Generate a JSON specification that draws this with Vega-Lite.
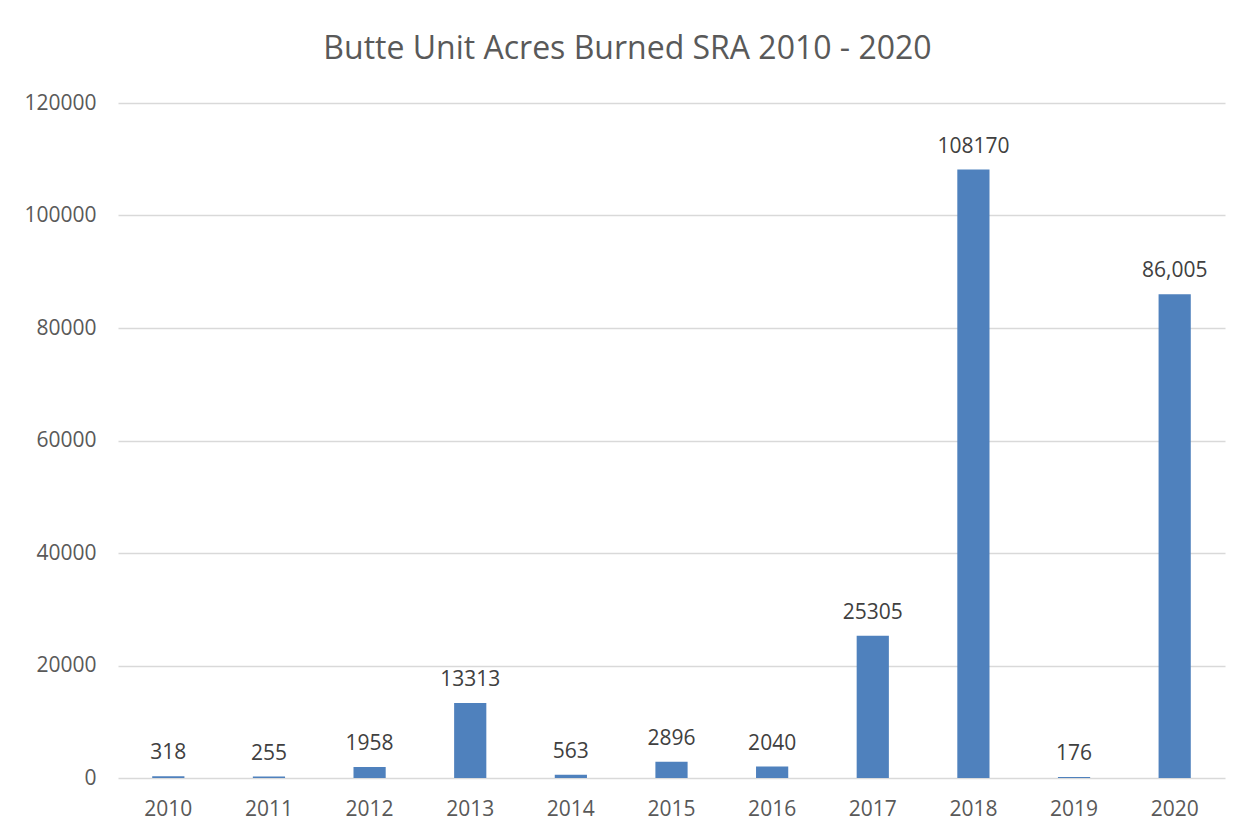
{
  "$schema": "https://vega.github.io/schema/vega-lite/v6.json",
  "autosize": {"type": "none"},
  "width": 1107,
  "height": 675,
  "padding": {"left": 118, "top": 103, "right": 27, "bottom": 59},
  "background": "white",
  "title": {
    "text": "Butte Unit Acres Burned SRA 2010 - 2020",
    "font": "Open Sans",
    "fontSize": 32,
    "fontWeight": "normal",
    "color": "#595959",
    "anchor": "middle",
    "dx": -44,
    "offset": 26
  },
  "data": {
    "values": [
      {"year": "2010", "acres": 318, "label": "318"},
      {"year": "2011", "acres": 255, "label": "255"},
      {"year": "2012", "acres": 1958, "label": "1958"},
      {"year": "2013", "acres": 13313, "label": "13313"},
      {"year": "2014", "acres": 563, "label": "563"},
      {"year": "2015", "acres": 2896, "label": "2896"},
      {"year": "2016", "acres": 2040, "label": "2040"},
      {"year": "2017", "acres": 25305, "label": "25305"},
      {"year": "2018", "acres": 108170, "label": "108170"},
      {"year": "2019", "acres": 176, "label": "176"},
      {"year": "2020", "acres": 86005, "label": "86,005"}
    ]
  },
  "encoding": {
    "x": {
      "field": "year",
      "type": "ordinal",
      "scale": {"paddingInner": 0.68, "paddingOuter": 0.34},
      "axis": {
        "title": null,
        "labelAngle": 0,
        "domain": false,
        "ticks": false,
        "tickSize": 0,
        "labelPadding": 20,
        "labelFont": "Open Sans",
        "labelFontSize": 21,
        "labelColor": "#595959"
      }
    },
    "y": {
      "field": "acres",
      "type": "quantitative",
      "scale": {"domain": [0, 120000], "nice": false},
      "axis": {
        "title": null,
        "values": [0, 20000, 40000, 60000, 80000, 100000, 120000],
        "format": "d",
        "domain": false,
        "ticks": false,
        "tickSize": 0,
        "labelPadding": 22,
        "labelFont": "Open Sans",
        "labelFontSize": 21,
        "labelColor": "#595959",
        "grid": true,
        "gridColor": "#d9d9d9",
        "gridWidth": 1.5
      }
    }
  },
  "layer": [
    {"mark": {"type": "bar", "color": "#4f81bd"}},
    {
      "mark": {
        "type": "text",
        "baseline": "alphabetic",
        "dy": -17,
        "font": "Open Sans",
        "fontSize": 21,
        "color": "#404040"
      },
      "encoding": {"text": {"field": "label"}}
    }
  ],
  "config": {"view": {"stroke": null}}
}
